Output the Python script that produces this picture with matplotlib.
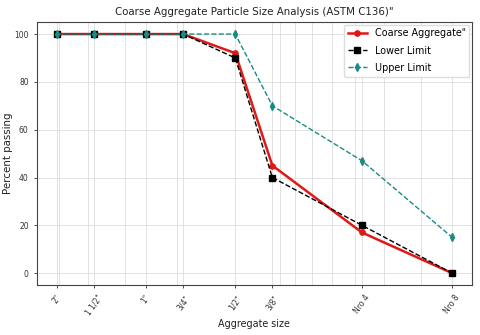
import matplotlib
matplotlib.use("Agg")
import matplotlib.pyplot as plt
from matplotlib.ticker import LogLocator, NullFormatter

sieve_labels = ['2"', '1 1/2"', '1"', '3/4"', '1/2"', '3/8"', 'Nro 4', 'Nro 8']
sieve_mm = [50.8, 38.1, 25.4, 19.05, 12.7, 9.525, 4.75, 2.36]
coarse = [100, 100, 100, 100, 92, 45, 17, 0]
lower = [100, 100, 100, 100, 90, 40, 20, 0]
upper = [100, 100, 100, 100, 100, 70, 47, 15]

fig = plt.figure(figsize=(4.8, 3.35), dpi=100)
ax = fig.add_axes([0.077, 0.149, 0.906, 0.785])

ax.plot(sieve_mm, coarse, color='#e01818', lw=1.8, marker='o', ms=3.8, label='Coarse Aggregate"', zorder=3)
ax.plot(sieve_mm, lower, color='black', lw=1.0, ls='--', marker='s', ms=3.8, label='Lower Limit', zorder=4)
ax.plot(sieve_mm, upper, color='#1a8a84', lw=1.0, ls='--', marker='d', ms=4, label='Upper Limit', zorder=5)

ax.set_xscale('log')
ax.invert_xaxis()
ax.set_xticks(sieve_mm)
ax.set_xticklabels(sieve_labels, rotation=55, fontsize=5.5, color='#333333')
ax.xaxis.set_minor_locator(LogLocator(base=10, subs=range(2, 10)))
ax.xaxis.set_minor_formatter(NullFormatter())
ax.tick_params(axis='x', which='minor', length=0)
ax.tick_params(axis='both', which='major', length=2.5, width=0.6, labelsize=5.5, colors='#333333')
ax.set_yticks([0, 20, 40, 60, 80, 100])

ax.grid(True, which='both', color='#dddddd', lw=0.6)
ax.set_axisbelow(True)
for s in ax.spines.values():
    s.set_color('#444444')
    s.set_linewidth(0.8)

ax.set_title('Coarse Aggregate Particle Size Analysis (ASTM C136)"', fontsize=7.4, color='#222222', pad=5)
ax.set_xlabel('Aggregate size', fontsize=6.9, color='#222222', labelpad=1)
ax.set_ylabel('Percent passing', fontsize=7.4, color='#222222')
ax.yaxis.set_label_coords(-0.056, 0.5)

leg = ax.legend(loc='upper right', fontsize=6.9, frameon=True, framealpha=1, edgecolor='#dddddd',
                fancybox=True, labelspacing=0.75, borderaxespad=0.25)

fig.savefig('out.png', dpi=100)
